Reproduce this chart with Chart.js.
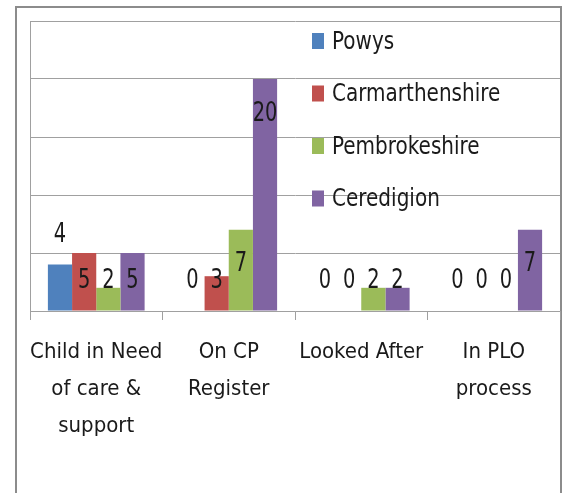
<!DOCTYPE html>
<html>
<head>
<meta charset="utf-8">
<script src="https://cdn.jsdelivr.net/npm/chart.js@4.4.1/dist/chart.umd.min.js"></script>
<style>
  html, body { margin: 0; padding: 0; background: #fff; overflow: hidden; }
  canvas { display: block; }
</style>
</head>
<body>
<canvas id="chart" width="568" height="493"></canvas>
<script>
// Children's services counts per authority.
const categories = [["Child in Need", "of care &", "support"], ["On CP", "Register"], ["Looked After"], ["In PLO", "process"]];
const seriesNames = ["Powys", "Carmarthenshire", "Pembrokeshire", "Ceredigion"];
const powys = [4, 0, 0, 0];
const carmarthenshire = [5, 3, 0, 0];
const pembrokeshire = [2, 7, 2, 0];
const ceredigion = [5, 20, 2, 7];
const yTicks = [0, 5, 10, 15, 20, 25];

const COLORS = ["#4f81bd", "#c0504d", "#9bbb59", "#8064a2"];
const FONT = "'DejaVu Sans Condensed', 'Liberation Sans Narrow', sans-serif";
const GRID = "#a0a0a0";

// where each value label sits (in axis units); the source had them hand-placed
const labelAt = [
  [6.55, 2.6, 2.6, 2.6],
  [2.6, 2.6, 2.6, 2.6],
  [2.6, 4.05, 2.6, 2.6],
  [2.6, 17.0, 2.6, 4.05],
];

// squeezed text, the original is a tall narrow face
function squeezedText(ctx, text, x, y, sx) {
  ctx.save();
  ctx.translate(x, y);
  ctx.scale(sx, 1);
  ctx.fillText(text, 0, 0);
  ctx.restore();
}

const framePlugin = {
  id: "frame",
  beforeDraw(chart) {
    const ctx = chart.ctx;
    ctx.save();
    ctx.strokeStyle = "#8c8c8c";
    ctx.lineWidth = 2;
    ctx.beginPath();
    ctx.moveTo(16, 493);
    ctx.lineTo(16, 7);
    ctx.lineTo(561, 7);
    ctx.lineTo(561, 493);
    ctx.stroke();
    ctx.restore();
  },
};

const barLabels = {
  id: "barLabels",
  afterDatasetsDraw(chart) {
    const ctx = chart.ctx;
    const y = chart.scales.y;
    ctx.save();
    ctx.font = "26px " + FONT;
    ctx.fillStyle = "#1a1a1a";
    ctx.textAlign = "center";
    ctx.textBaseline = "middle";
    chart.data.datasets.forEach((ds, i) => {
      chart.getDatasetMeta(i).data.forEach((bar, j) => {
        squeezedText(ctx, String(ds.data[j]), bar.x, y.getPixelForValue(labelAt[i][j]), 0.83);
      });
    });
    ctx.restore();
  },
};

const insideLegend = {
  id: "insideLegend",
  afterDraw(chart) {
    const ctx = chart.ctx;
    ctx.save();
    ctx.font = "25px " + FONT;
    ctx.textBaseline = "middle";
    chart.data.datasets.forEach((ds, i) => {
      const cy = 41 + i * 52.5;
      ctx.fillStyle = ds.backgroundColor;
      ctx.fillRect(312, cy - 8, 12, 16);
      ctx.fillStyle = "#1a1a1a";
      squeezedText(ctx, ds.label, 332, cy + 1, 0.89);
    });
    ctx.restore();
  },
};

const seriesData = [powys, carmarthenshire, pembrokeshire, ceredigion];

new Chart(document.getElementById("chart"), {
  type: "bar",
  data: {
    labels: categories,
    datasets: seriesNames.map((name, i) => ({
      label: name,
      data: seriesData[i],
      backgroundColor: COLORS[i],
      borderWidth: 0,
      barPercentage: 1,
      categoryPercentage: 0.73,
    })),
  },
  options: {
    responsive: false,
    animation: false,
    layout: { padding: { left: 30, top: 21, right: 8, bottom: 0 } },
    plugins: { legend: { display: false }, tooltip: { enabled: false } },
    scales: {
      x: {
        afterFit: (s) => { s.height = 182; },
        grid: { offset: true, drawOnChartArea: false, drawTicks: true, tickLength: 9, color: GRID },
        border: { color: GRID },
        ticks: { color: "#1a1a1a", padding: 14, maxRotation: 0, autoSkip: false, font: { family: FONT, size: 22, lineHeight: "37px" } },
      },
      y: {
        min: yTicks[0],
        max: yTicks[yTicks.length - 1],
        afterFit: (s) => { s.width = 0; },
        afterBuildTicks: (s) => { s.ticks = yTicks.map((v) => ({ value: v })); },
        grid: { color: GRID, drawTicks: false },
        border: { display: true, color: GRID },
        ticks: { display: false },
      },
    },
  },
  plugins: [framePlugin, barLabels, insideLegend],
});
</script>
</body>
</html>
